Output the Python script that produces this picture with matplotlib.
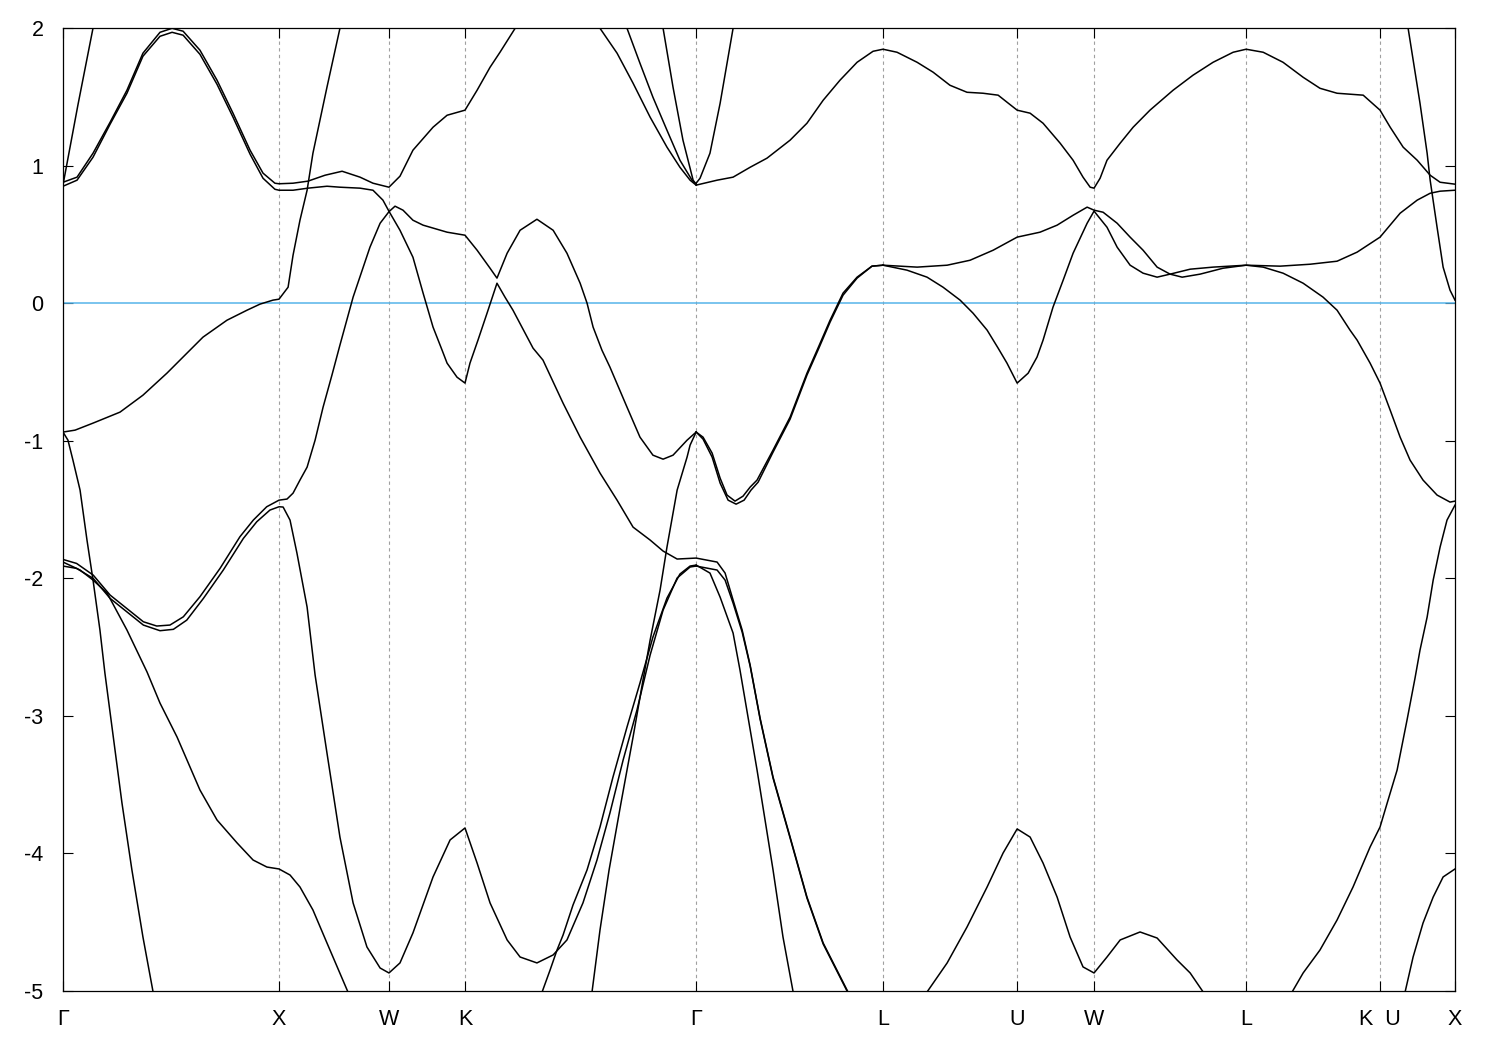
"""Band structure along Γ-X-W-K-Γ-L-U-W-L-K|U-X, redrawn in gnuplot style."""

import matplotlib
matplotlib.use("Agg")
import matplotlib.pyplot as plt

plt.rcParams["font.family"] = ["Liberation Sans", "DejaVu Sans"]
plt.rcParams["axes.unicode_minus"] = False

# high-symmetry points (k in units of 2π/a along the path)
sym_k = [0.0, 1.0, 1.509, 1.861, 2.931, 3.796, 4.417, 4.773, 5.477, 6.097, 6.444]
sym_labels = ["Γ", "X", "W", "K", "Γ", "L", "U", "W", "L", "K  U", "X"]

# bands (k, E in eV)
gx_steep_up_k = [0.0, 0.069, 0.139]
gx_steep_up_e = [0.86, 1.44, 2.0]

gx_pair_hi_k = [0.0, 0.065, 0.139, 0.218, 0.296, 0.370, 0.449, 0.505, 0.556, 0.634,
                0.713, 0.787, 0.866, 0.926, 0.981, 1.0, 1.065, 1.134, 1.213, 1.292,
                1.375, 1.435, 1.509, 1.560, 1.620, 1.713, 1.778, 1.861, 1.917, 1.977,
                2.023, 2.093]
gx_pair_hi_e = [0.879, 0.916, 1.090, 1.315, 1.548, 1.817, 1.969, 1.998, 1.977, 1.839,
                1.621, 1.381, 1.112, 0.945, 0.872, 0.868, 0.872, 0.887, 0.930, 0.959,
                0.916, 0.872, 0.843, 0.923, 1.112, 1.279, 1.366, 1.403, 1.548, 1.715,
                1.824, 1.998]

gx_pair_lo_k = [0.0, 0.065, 0.139, 0.218, 0.296, 0.370, 0.449, 0.505, 0.556, 0.634,
                0.713, 0.787, 0.866, 0.926, 0.981, 1.0, 1.065, 1.134, 1.222, 1.282,
                1.375, 1.435, 1.481, 1.509, 1.560, 1.620, 1.667, 1.713, 1.755, 1.778,
                1.824, 1.861, 1.884, 1.921, 1.963, 2.009, 2.046, 2.083, 2.176, 2.222,
                2.315, 2.394, 2.486, 2.565, 2.639, 2.718, 2.778, 2.843, 2.931, 3.028,
                3.065, 3.102, 3.144, 3.181, 3.227, 3.287, 3.366, 3.444, 3.519, 3.634]
gx_pair_lo_e = [0.850, 0.894, 1.061, 1.301, 1.526, 1.795, 1.940, 1.969, 1.948, 1.809,
                1.591, 1.352, 1.083, 0.908, 0.828, 0.821, 0.821, 0.836, 0.850, 0.843,
                0.836, 0.821, 0.749, 0.668, 0.530, 0.334, 0.073, -0.174, -0.342, -0.436,
                -0.538, -0.581, -0.436, -0.269, -0.073, 0.145, 0.044, -0.051, -0.327, -0.414,
                -0.727, -0.974, -1.235, -1.432, -1.628, -1.722, -1.802, -1.860, -1.853, -1.882,
                -1.962, -2.158, -2.376, -2.631, -3.016, -3.445, -3.881, -4.317, -4.651, -5.007]

gx_fermi_k = [0.0, 0.056, 0.139, 0.264, 0.370, 0.481, 0.574, 0.648, 0.759, 0.852,
              0.912, 0.972, 1.0, 1.042, 1.065, 1.097, 1.130, 1.157, 1.222, 1.282]
gx_fermi_e = [-0.937, -0.923, -0.872, -0.792, -0.669, -0.509, -0.363, -0.247, -0.124, -0.051,
              -0.007, 0.022, 0.029, 0.116, 0.349, 0.603, 0.821, 1.090, 1.570, 1.998]

gx_steep_down_k = [0.0, 0.023, 0.046, 0.079, 0.111, 0.139, 0.171, 0.194, 0.273, 0.319,
                   0.370, 0.417]
gx_steep_down_e = [-0.937, -0.996, -1.141, -1.359, -1.722, -2.013, -2.376, -2.689, -3.634, -4.120,
                   -4.607, -5.007]

low_pair_hi_k = [0.0, 0.063, 0.140, 0.218, 0.295, 0.372, 0.434, 0.495, 0.557, 0.634,
                 0.727, 0.819, 0.881, 0.943, 1.0, 1.037, 1.065, 1.097, 1.130, 1.167,
                 1.204, 1.245, 1.282, 1.343, 1.421, 1.468, 1.509, 1.537, 1.574, 1.620,
                 1.667, 1.778, 1.861, 1.917, 1.977, 2.009, 2.056, 2.116, 2.194, 2.269,
                 2.333, 2.394, 2.426, 2.454, 2.495, 2.532, 2.611, 2.671, 2.731, 2.778,
                 2.824, 2.889, 2.931]
low_pair_hi_e = [-1.863, -1.892, -1.977, -2.122, -2.219, -2.316, -2.347, -2.340, -2.280, -2.134,
                 -1.928, -1.698, -1.577, -1.480, -1.432, -1.424, -1.381, -1.286, -1.192, -0.996,
                 -0.756, -0.523, -0.305, 0.044, 0.407, 0.581, 0.665, 0.705, 0.676, 0.603,
                 0.567, 0.516, 0.494, 0.385, 0.254, 0.182, 0.363, 0.530, 0.610, 0.530,
                 0.363, 0.145, 0.0, -0.174, -0.342, -0.465, -0.756, -0.974, -1.105, -1.134,
                 -1.105, -0.996, -0.937]

low_pair_lo_k = [0.0, 0.063, 0.140, 0.218, 0.295, 0.372, 0.449, 0.511, 0.573, 0.650,
                 0.742, 0.835, 0.897, 0.958, 1.0, 1.019, 1.051, 1.083, 1.130, 1.167,
                 1.222, 1.282, 1.343, 1.407, 1.468, 1.509, 1.560, 1.620, 1.713, 1.792,
                 1.861, 1.917, 1.977, 2.056, 2.116, 2.194, 2.269, 2.333, 2.407, 2.472,
                 2.532, 2.593, 2.657, 2.718, 2.778, 2.843, 2.903, 2.931]
low_pair_lo_e = [-1.911, -1.928, -2.001, -2.146, -2.243, -2.340, -2.381, -2.371, -2.304, -2.146,
                 -1.940, -1.710, -1.589, -1.504, -1.480, -1.482, -1.577, -1.817, -2.209, -2.703,
                 -3.270, -3.881, -4.360, -4.680, -4.833, -4.869, -4.796, -4.578, -4.171, -3.902,
                 -3.815, -4.070, -4.360, -4.629, -4.753, -4.796, -4.738, -4.629, -4.360, -4.048,
                 -3.706, -3.321, -2.958, -2.558, -2.231, -1.998, -1.918, -1.911]

gx_deep_k = [0.0, 0.079, 0.139, 0.204, 0.296, 0.389, 0.449, 0.528, 0.634, 0.713,
             0.806, 0.880, 0.944, 1.0, 1.051, 1.097, 1.157, 1.222, 1.319]
gx_deep_e = [-1.882, -1.940, -2.013, -2.107, -2.376, -2.681, -2.907, -3.154, -3.539, -3.757,
             -3.924, -4.048, -4.099, -4.113, -4.157, -4.244, -4.411, -4.651, -5.007]

kg_steep_k = [2.931, 2.903, 2.889, 2.843, 2.796, 2.764, 2.718, 2.685, 2.639, 2.583,
              2.528, 2.486, 2.449]
kg_steep_e = [-0.937, -1.032, -1.119, -1.359, -1.773, -2.086, -2.449, -2.740, -3.154, -3.634,
              -4.120, -4.556, -5.007]

kg_arch_k = [2.218, 2.255, 2.287, 2.315, 2.361, 2.426, 2.486, 2.546, 2.611, 2.671,
             2.731, 2.796, 2.856, 2.903, 2.931]
kg_arch_e = [-5.007, -4.847, -4.702, -4.593, -4.375, -4.120, -3.808, -3.445, -3.081, -2.761,
             -2.427, -2.144, -1.969, -1.911, -1.904]

gl_arch_thin_k = [2.931, 2.995, 3.042, 3.102, 3.134, 3.213, 3.287, 3.333, 3.380]
gl_arch_thin_e = [-1.904, -1.962, -2.137, -2.398, -2.667, -3.394, -4.120, -4.607, -5.007]

gl_arch_k = [2.931, 3.028, 3.065, 3.102, 3.144, 3.181, 3.227, 3.287, 3.366, 3.444,
             3.519, 3.634]
gl_arch_e = [-1.911, -1.940, -2.013, -2.180, -2.391, -2.638, -3.023, -3.452, -3.888, -4.324,
             -4.658, -5.014]

gl_valley_a_k = [2.931, 2.963, 3.005, 3.042, 3.074, 3.111, 3.148, 3.181, 3.213, 3.287,
                 3.366, 3.444, 3.495, 3.551, 3.611, 3.676, 3.745, 3.796]
gl_valley_a_e = [-0.937, -0.974, -1.090, -1.272, -1.395, -1.439, -1.403, -1.337, -1.286, -1.068,
                 -0.828, -0.509, -0.327, -0.124, 0.073, 0.189, 0.269, 0.276]
gl_valley_b_k = [2.931, 2.963, 3.005, 3.042, 3.079, 3.116, 3.153, 3.185, 3.218, 3.287,
                 3.366, 3.444, 3.495, 3.551, 3.611, 3.676, 3.745, 3.796]
gl_valley_b_e = [-0.937, -0.988, -1.119, -1.308, -1.432, -1.461, -1.432, -1.359, -1.301, -1.083,
                 -0.843, -0.523, -0.342, -0.138, 0.058, 0.182, 0.269, 0.276]

lx_flat_k = [3.796, 3.954, 4.093, 4.199, 4.306, 4.417, 4.523, 4.602, 4.676, 4.741,
             4.773, 4.815, 4.880, 4.940, 5.0, 5.065, 5.125, 5.181, 5.264, 5.370,
             5.477, 5.634, 5.773, 5.898, 5.991, 6.097, 6.190, 6.269, 6.329, 6.375,
             6.444]
lx_flat_e = [0.276, 0.262, 0.276, 0.312, 0.385, 0.480, 0.516, 0.567, 0.639, 0.698,
             0.676, 0.661, 0.581, 0.480, 0.385, 0.262, 0.211, 0.189, 0.211, 0.254,
             0.276, 0.269, 0.283, 0.305, 0.371, 0.480, 0.654, 0.749, 0.799, 0.814,
             0.821]

lx_down_k = [3.796, 3.907, 4.0, 4.074, 4.153, 4.213, 4.278, 4.329, 4.370, 4.417,
             4.468, 4.509, 4.537, 4.583, 4.630, 4.676, 4.741, 4.773, 4.833, 4.880,
             4.940, 5.0, 5.065, 5.125, 5.218, 5.324, 5.477, 5.556, 5.648, 5.741,
             5.833, 5.898, 5.958, 5.991, 6.051, 6.097, 6.144, 6.190, 6.236, 6.296,
             6.361, 6.421, 6.444]
lx_down_e = [0.276, 0.240, 0.189, 0.116, 0.022, -0.073, -0.196, -0.327, -0.436, -0.581,
             -0.509, -0.392, -0.269, -0.029, 0.167, 0.363, 0.581, 0.669, 0.552, 0.407,
             0.276, 0.218, 0.189, 0.211, 0.247, 0.262, 0.276, 0.262, 0.218, 0.145,
             0.044, -0.051, -0.196, -0.269, -0.436, -0.581, -0.778, -0.974, -1.141, -1.286,
             -1.395, -1.446, -1.439]

top_band_k = [2.931, 3.028, 3.102, 3.181, 3.259, 3.366, 3.444, 3.519, 3.597, 3.676,
              3.750, 3.796, 3.861, 3.954, 4.028, 4.106, 4.185, 4.259, 4.329, 4.370,
              4.417, 4.477, 4.537, 4.616, 4.676, 4.722, 4.755, 4.773, 4.801, 4.833,
              4.894, 4.954, 5.032, 5.139, 5.231, 5.324, 5.417, 5.477, 5.556, 5.648,
              5.741, 5.819, 5.898, 6.019, 6.097, 6.144, 6.204, 6.269, 6.329, 6.375,
              6.444]
top_band_e = [0.858, 0.894, 0.916, 0.988, 1.054, 1.185, 1.308, 1.475, 1.621, 1.751,
              1.831, 1.846, 1.824, 1.751, 1.679, 1.584, 1.533, 1.526, 1.512, 1.461,
              1.403, 1.381, 1.308, 1.163, 1.039, 0.916, 0.843, 0.836, 0.908, 1.039,
              1.163, 1.279, 1.403, 1.548, 1.657, 1.751, 1.824, 1.846, 1.824, 1.751,
              1.642, 1.562, 1.526, 1.512, 1.403, 1.279, 1.134, 1.039, 0.930, 0.879,
              0.865]

kg_top1_k = [2.486, 2.565, 2.639, 2.718, 2.796, 2.856, 2.903, 2.931]
kg_top1_e = [1.998, 1.817, 1.599, 1.352, 1.134, 0.988, 0.894, 0.858]
kg_top2_k = [2.611, 2.671, 2.731, 2.796, 2.856, 2.912, 2.931]
kg_top2_e = [1.998, 1.744, 1.497, 1.257, 1.039, 0.894, 0.865]
kg_top3_k = [2.778, 2.824, 2.870, 2.917, 2.931]
kg_top3_e = [1.998, 1.570, 1.185, 0.894, 0.865]
gl_top_k = [3.102, 3.042, 2.995, 2.949, 2.931]
gl_top_e = [1.998, 1.453, 1.090, 0.908, 0.872]

ux_steep_k = [6.227, 6.282, 6.315, 6.329, 6.361, 6.389, 6.421, 6.444]
ux_steep_e = [1.998, 1.453, 1.090, 0.894, 0.552, 0.262, 0.094, 0.022]

kx_mid_k = [6.444, 6.407, 6.375, 6.343, 6.315, 6.282, 6.259, 6.222, 6.176, 6.130,
            6.097, 6.051, 5.972, 5.898, 5.819, 5.741, 5.690]
kx_mid_e = [-1.468, -1.577, -1.773, -2.013, -2.282, -2.522, -2.725, -3.030, -3.394, -3.634,
            -3.808, -3.953, -4.244, -4.484, -4.702, -4.869, -5.007]

kx_low_k = [6.444, 6.389, 6.343, 6.296, 6.250, 6.213]
kx_low_e = [-4.113, -4.171, -4.317, -4.506, -4.753, -5.007]

uw_bottom_k = [4.0, 4.093, 4.185, 4.278, 4.352, 4.417, 4.477, 4.537, 4.602, 4.662,
               4.722, 4.773, 4.833, 4.894, 4.986, 5.065, 5.157, 5.218, 5.278]
uw_bottom_e = [-5.007, -4.796, -4.535, -4.244, -3.997, -3.822, -3.881, -4.070, -4.317, -4.607,
               -4.825, -4.869, -4.753, -4.629, -4.571, -4.615, -4.774, -4.869, -5.007]

BANDS = [
    (gx_steep_up_k, gx_steep_up_e), (gx_pair_hi_k, gx_pair_hi_e),
    (gx_pair_lo_k, gx_pair_lo_e), (gx_fermi_k, gx_fermi_e),
    (gx_steep_down_k, gx_steep_down_e), (low_pair_hi_k, low_pair_hi_e),
    (low_pair_lo_k, low_pair_lo_e), (gx_deep_k, gx_deep_e),
    (kg_steep_k, kg_steep_e), (kg_arch_k, kg_arch_e),
    (gl_arch_thin_k, gl_arch_thin_e), (gl_arch_k, gl_arch_e),
    (gl_valley_a_k, gl_valley_a_e), (gl_valley_b_k, gl_valley_b_e),
    (lx_flat_k, lx_flat_e), (lx_down_k, lx_down_e), (top_band_k, top_band_e),
    (kg_top1_k, kg_top1_e), (kg_top2_k, kg_top2_e), (kg_top3_k, kg_top3_e),
    (gl_top_k, gl_top_e), (ux_steep_k, ux_steep_e), (kx_mid_k, kx_mid_e),
    (kx_low_k, kx_low_e), (uw_bottom_k, uw_bottom_e),
]

E_MIN, E_MAX = -5, 2
E_TICKS = [-5, -4, -3, -2, -1, 0, 1, 2]


def main() -> None:
    fig = plt.figure(figsize=(15, 10.5), dpi=100)
    ax = fig.add_axes([0.042, 0.0562, 0.928, 0.9171])

    for k in sym_k[1:-1]:
        ax.axvline(k, color="#a0a0a0", lw=0.8, ls=(0, (3, 3)), zorder=1)
    ax.axhline(0.0, color="#56b4e9", lw=1.1, zorder=2)

    for ks, es in BANDS:
        ax.plot(ks, es, color="black", lw=1.1, solid_joinstyle="round", zorder=3)

    ax.set_xlim(sym_k[0], sym_k[-1])
    ax.set_ylim(E_MIN, E_MAX)
    ax.set_xticks(sym_k)
    ax.set_xticklabels(sym_labels)
    ax.set_yticks(E_TICKS)
    ax.set_yticklabels([str(v) for v in E_TICKS])
    ax.tick_params(direction="in", length=7, width=0.8, top=True, right=True,
                   labelsize=15.5)
    ax.tick_params(axis="x", pad=13)
    ax.tick_params(axis="y", pad=14)
    for spine in ax.spines.values():
        spine.set_linewidth(0.9)

    fig.savefig("out.png", dpi=100)
    plt.close(fig)


if __name__ == "__main__":
    main()
